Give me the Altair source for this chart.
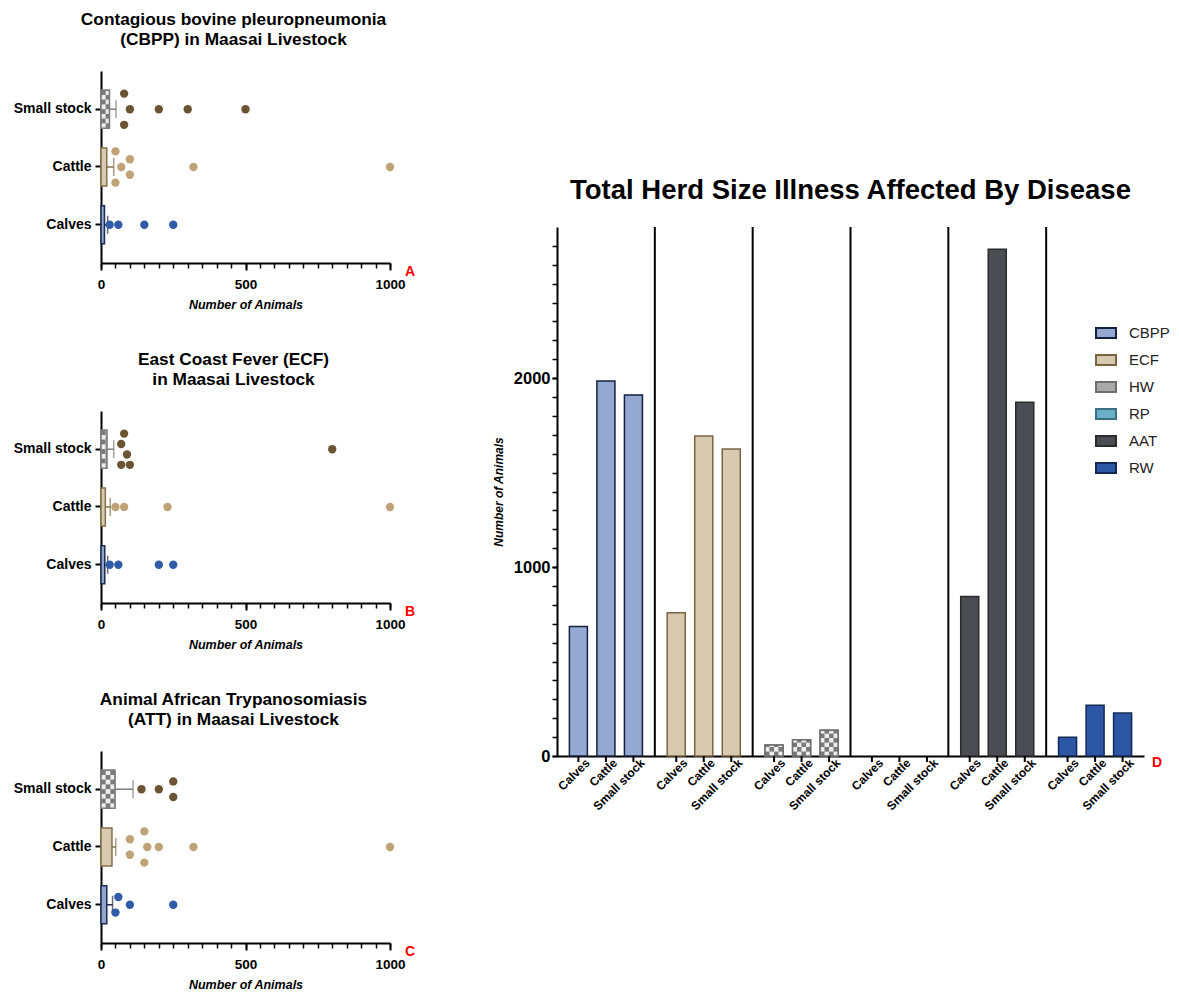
import altair as alt
import pandas as pd

FONT = "Liberation Sans"
CATS = ["Calves", "Cattle", "Small stock"]
Y_ORDER = ["Small stock", "Cattle", "Calves"]

# ---------------- Panel A : CBPP ----------------
a_title = ["Contagious bovine pleuropneumonia", "(CBPP) in  Maasai  Livestock"]
a_bar = [12, 20, 29]          # Calves, Cattle, Small stock
a_err = [23, 44, 52]
a_calves = [30, 60, 150, 250]
a_calves_lane = [0, 0, 0, 0]
a_cattle = [50, 100, 70, 320, 1000, 100, 50]
a_cattle_lane = [-2, -1, 0, 0, 0, 1, 2]
a_small = [80, 100, 200, 300, 500, 80]
a_small_lane = [-2, 0, 0, 0, 0, 2]

# ---------------- Panel B : ECF ----------------
b_title = ["East Coast Fever (ECF)", "in Maasai Livestock"]
b_bar = [13, 15, 20]
b_err = [23, 32, 44]
b_calves = [30, 60, 200, 250]
b_calves_lane = [0, 0, 0, 0]
b_cattle = [50, 80, 230, 1000]
b_cattle_lane = [0, 0, 0, 0]
b_small = [80, 70, 800, 90, 70, 100]
b_small_lane = [-2, -0.67, 0, 0.67, 2, 2]

# ---------------- Panel C : ATT ----------------
c_title = ["Animal African Trypanosomiasis", "(ATT) in Maasai Livestock"]
c_bar = [20, 38, 48]
c_err = [40, 51, 111]
c_calves = [60, 100, 250, 50]
c_calves_lane = [-1, 0, 0, 1]
c_cattle = [150, 100, 160, 200, 320, 1000, 100, 150]
c_cattle_lane = [-2, -1, 0, 0, 0, 0, 1, 2]
c_small = [140, 200, 250, 250]
c_small_lane = [0, 0, -1, 1]

# ---------------- Panel D : totals ----------------
DISEASES = ["CBPP", "ECF", "HW", "RP", "AAT", "RW"]
herd_calves = [686, 758, 58, 0, 844, 99]
herd_cattle = [1985, 1694, 86, 0, 2682, 269]
herd_small = [1911, 1625, 136, 0, 1873, 227]

# ---------------- styles ----------------
BAR_FILL = ["#8FA6D3", "#D8CAB0", "#B0B0B0"]
BAR_STROKE = ["#1F2B4D", "#86704B", "#7E7E7E"]
PT_COLOR = ["#2F5BA7", "#BFA377", "#6B5431"]
D_FILL = ["#93A9D2", "#D8CAB0", "#A9A9A9", "#6AAFC8", "#4A4D52", "#2D57A5"]
D_STROKE = ["#15213F", "#7A6340", "#6E6E6E", "#3C6F82", "#2B2B2B", "#142A55"]
CHECK_DARK, CHECK_LIGHT = "#7A7A7A", "#EDEDED"

PW, PH = 289, 192
P_IN, P_OUT = 0.343, 0.333
STEP = PH / (3 - P_IN + 2 * P_OUT)
BAND = STEP * (1 - P_IN)
HALF_BAND = BAND / 2
LANE_PX = 7.8

X_MINOR = list(range(0, 1001, 50))
Y_MINOR = list(range(0, 2701, 100))

CHECK_ROWS = 8                       # checker rows across a horizontal bar
CHECK_UX = (BAND / CHECK_ROWS) / (PW / 1000.0)   # data units per checker cell (panels A-C)


def points_df(calves, cl, cattle, ctl, small, sl):
    rows = []
    for cat, vals, lanes in (("Calves", calves, cl), ("Cattle", cattle, ctl), ("Small stock", small, sl)):
        for v, l in zip(vals, lanes):
            rows.append({"cat": cat, "val": v, "lane": l})
    return pd.DataFrame(rows)


def panel(title, letter, bars, errs, pdf):
    bdf = pd.DataFrame({"cat": CATS, "val": bars, "err": errs})
    yscale = alt.Scale(domain=Y_ORDER, paddingInner=P_IN, paddingOuter=P_OUT)
    yaxis = alt.Axis(labelFont=FONT, labelFontSize=14, labelFontWeight="bold", labelColor="black",
                     domainColor="black", domainWidth=2, tickColor="black", tickWidth=2, tickSize=6,
                     labelPadding=4, title=None)
    xscale = alt.Scale(domain=[0, 1000], nice=False)
    xaxis = alt.Axis(values=[0, 500, 1000], format="d", orient="bottom", labelFont=FONT, labelFontSize=13.5,
                     labelFontWeight="bold", labelColor="black", domainColor="black", domainWidth=2,
                     tickColor="black", tickWidth=2, tickSize=7, labelPadding=7, labelFlush=False,
                     title="Number of Animals", titleFont=FONT, titleFontSize=12.5,
                     titleFontStyle="italic", titleFontWeight="bold", titleColor="black", titlePadding=8)
    Y = alt.Y("cat:N", sort=Y_ORDER, scale=yscale, axis=yaxis)
    Ys = alt.Y("cat:N", sort=Y_ORDER)

    bar = alt.Chart(bdf).mark_bar(strokeWidth=1.5).encode(
        y=Y, x=alt.X("val:Q", scale=xscale, axis=xaxis),
        fill=alt.Fill("cat:N", scale=alt.Scale(domain=CATS, range=BAR_FILL), legend=None),
        stroke=alt.Stroke("cat:N", scale=alt.Scale(domain=CATS, range=BAR_STROKE), legend=None),
    )
    checks = []
    for r in range(CHECK_ROWS):
        checks.append(
            alt.Chart(bdf).transform_filter("datum.cat == 'Small stock'")
            .transform_calculate(cells=f"sequence(0, ceil(datum.val/{CHECK_UX}))")
            .transform_flatten(["cells"])
            .transform_calculate(lo=f"datum.cells*{CHECK_UX}", hi=f"min((datum.cells+1)*{CHECK_UX}, datum.val)")
            .mark_bar(height=BAND / CHECK_ROWS, yOffset=(r - (CHECK_ROWS - 1) / 2) * BAND / CHECK_ROWS)
            .encode(y=Ys, x=alt.X("lo:Q", axis=None), x2="hi:Q",
                    fill=alt.condition(f"(datum.cells + {r}) % 2 == 0", alt.value(CHECK_DARK), alt.value(CHECK_LIGHT)))
        )
    outline = alt.Chart(bdf).transform_filter("datum.cat == 'Small stock'").mark_bar(
        fillOpacity=0, stroke=BAR_STROKE[2], strokeWidth=1.5).encode(y=Ys, x=alt.X("val:Q", axis=None))
    err = alt.Chart(bdf).mark_rule(strokeWidth=1.5).encode(
        y=Ys, x=alt.X("val:Q", axis=None), x2="err:Q",
        color=alt.Color("cat:N", scale=alt.Scale(domain=CATS, range=BAR_STROKE), legend=None),
    )
    cap = alt.Chart(bdf).mark_tick(size=18, thickness=1.5).encode(
        y=Ys, x=alt.X("err:Q", axis=None),
        color=alt.Color("cat:N", scale=alt.Scale(domain=CATS, range=BAR_STROKE), legend=None),
    )
    pts = alt.Chart(pdf).transform_calculate(
        off=f"datum.lane*{LANE_PX}+{HALF_BAND}").mark_circle(size=70, opacity=1).encode(
        y=Ys, yOffset=alt.YOffset("off:Q", scale=None),
        x=alt.X("val:Q", axis=None),
        color=alt.Color("cat:N", scale=alt.Scale(domain=CATS, range=PT_COLOR), legend=None),
    )
    minor = alt.Chart(pd.DataFrame({"t": X_MINOR})).mark_point(opacity=0).encode(
        x=alt.X("t:Q", axis=alt.Axis(values=X_MINOR, orient="bottom", labels=False, domain=False,
                                     tickSize=5, tickWidth=1.5, tickColor="black", title=None, grid=False)))
    lab = alt.Chart(pd.DataFrame({"l": [letter]})).mark_text(
        color="#FF0000", fontWeight="bold", fontSize=14, font=FONT, align="left", baseline="middle",
        dx=15, dy=9).encode(x=alt.X(datum=1000, axis=None), y=alt.value(PH), text="l:N")

    return alt.layer(bar, *checks, outline, err, cap, pts, minor, lab).resolve_scale(
        color="independent", fill="independent", stroke="independent"
    ).resolve_axis(x="independent").properties(
        width=PW, height=PH,
        title=alt.TitleParams(title, font=FONT, fontSize=17.3, fontWeight="bold", color="black",
                              anchor="middle", frame="group", dx=-12, lineHeight=20, offset=23),
    )


pA = panel(a_title, "A", a_bar, a_err,
           points_df(a_calves, a_calves_lane, a_cattle, a_cattle_lane, a_small, a_small_lane))
pB = panel(b_title, "B", b_bar, b_err,
           points_df(b_calves, b_calves_lane, b_cattle, b_cattle_lane, b_small, b_small_lane))
pC = panel(c_title, "C", c_bar, c_err,
           points_df(c_calves, c_calves_lane, c_cattle, c_cattle_lane, c_small, c_small_lane))

left = alt.vconcat(pA, pB, pC, spacing=39).resolve_scale(
    color="independent", fill="independent", stroke="independent")

# ---------------- right chart ----------------
DW, DH = 587, 529
YMAX = 2800
rows = []
for i, d in enumerate(DISEASES):
    for cat, arr in (("Calves", herd_calves), ("Cattle", herd_cattle), ("Small stock", herd_small)):
        rows.append({"disease": d, "cat": cat, "val": arr[i]})
ddf = pd.DataFrame(rows)

XO_IN, XO_OUT = 0.345, 0.45
GROUP_W = DW / len(DISEASES)
SUB_STEP = GROUP_W / (3 - XO_IN + 2 * XO_OUT)
BAR_W = SUB_STEP * (1 - XO_IN)
CHECK_COLS = 4
CELL_PX = BAR_W / CHECK_COLS
CHECK_UY = CELL_PX / (DH / YMAX)

xsc = alt.Scale(domain=DISEASES, paddingInner=0, paddingOuter=0)
xoff = alt.XOffset("cat:N", sort=CATS, scale=alt.Scale(domain=CATS, paddingInner=XO_IN, paddingOuter=XO_OUT))
Xd = alt.X("disease:N", sort=DISEASES)
leg = dict(title=None, orient="none", legendX=538, legendY=95, symbolType="M-1,-0.5H1V0.5H-1Z",
           symbolSize=400, symbolStrokeWidth=2, labelFont=FONT, labelFontSize=15, labelColor="#222222",
           labelOffset=12, rowPadding=7)

dbars = alt.Chart(ddf).transform_filter("datum.val > 0").mark_bar(strokeWidth=1.5).encode(
    x=alt.X("disease:N", sort=DISEASES, scale=xsc,
            axis=alt.Axis(labels=False, ticks=False, domain=True, domainColor="black", domainWidth=2, title=None)),
    xOffset=xoff,
    y=alt.Y("val:Q", scale=alt.Scale(domain=[0, YMAX], nice=False),
            axis=alt.Axis(values=[0, 1000, 2000], format="d", orient="left", labelFont=FONT, labelFontSize=16.5,
                          labelFontWeight="bold", labelColor="black", domainColor="black", domainWidth=2,
                          tickColor="black", tickWidth=2, tickSize=5, labelPadding=2,
                          title="Number of Animals", titleFont=FONT, titleFontSize=12,
                          titleFontStyle="italic", titleFontWeight="bold", titleColor="black", titlePadding=8)),
    fill=alt.Fill("disease:N", sort=DISEASES, scale=alt.Scale(domain=DISEASES, range=D_FILL), legend=alt.Legend(**leg)),
    stroke=alt.Stroke("disease:N", sort=DISEASES, scale=alt.Scale(domain=DISEASES, range=D_STROKE), legend=alt.Legend(**leg)),
)
# checkered fill of the HW bars: one layer per (category, checker column)
dchecks = []
for ci, cat in enumerate(CATS):
    for k in range(CHECK_COLS):
        dchecks.append(
            alt.Chart(ddf).transform_filter(f"datum.disease == 'HW' && datum.cat == '{cat}' && datum.val > 0")
            .transform_calculate(cells=f"sequence(0, ceil(datum.val/{CHECK_UY}))")
            .transform_flatten(["cells"])
            .transform_calculate(lo=f"datum.cells*{CHECK_UY}", hi=f"min((datum.cells+1)*{CHECK_UY}, datum.val)")
            .mark_bar(width=CELL_PX, xOffset=(ci - 1) * SUB_STEP + (k - (CHECK_COLS - 1) / 2) * CELL_PX)
            .encode(x=Xd, y=alt.Y("lo:Q", axis=None), y2="hi:Q",
                    fill=alt.condition(f"(datum.cells + {k}) % 2 == 0", alt.value(CHECK_DARK), alt.value(CHECK_LIGHT)))
        )
doutline = alt.Chart(ddf).transform_filter("datum.disease == 'HW' && datum.val > 0").mark_bar(
    fillOpacity=0, stroke=D_STROKE[2], strokeWidth=1.5).encode(x=Xd, xOffset=xoff, y=alt.Y("val:Q", axis=None))
sep = alt.Chart(pd.DataFrame({"disease": DISEASES[:-1]})).mark_rule(color="black", strokeWidth=2).encode(
    x=alt.X("disease:N", sort=DISEASES, bandPosition=1), y=alt.value(0), y2=alt.value(DH))
xt = alt.Chart(ddf).mark_rule(color="black", strokeWidth=2).encode(
    x=Xd, xOffset=xoff, y=alt.value(DH), y2=alt.value(DH + 6))
xl = alt.Chart(ddf).mark_text(angle=315, align="right", baseline="middle", font=FONT, fontSize=12,
                              fontWeight="bold", color="black", dx=3, dy=10).encode(
    x=Xd, xOffset=xoff, y=alt.value(DH), text="cat:N")
yminor = alt.Chart(pd.DataFrame({"t": Y_MINOR})).mark_point(opacity=0).encode(
    y=alt.Y("t:Q", axis=alt.Axis(values=Y_MINOR, orient="left", labels=False, domain=False, tickSize=5,
                                 tickWidth=1.5, tickColor="black", title=None, grid=False)))
dlab = alt.Chart(pd.DataFrame({"l": ["D"]})).mark_text(
    color="#FF0000", fontWeight="bold", fontSize=14, font=FONT, align="left", baseline="middle").encode(
    x=alt.value(DW + 8), y=alt.value(DH + 7), text="l:N")

right_main = alt.layer(dbars, *dchecks, doutline, sep, xt, xl, yminor, dlab).resolve_axis(
    y="independent").properties(
    width=DW, height=DH,
    title=alt.TitleParams("Total Herd Size Illness Affected By Disease", font=FONT, fontSize=27.5,
                          fontWeight="bold", color="black", anchor="middle", frame="group", offset=22),
)
SP_H = 105
spacer = alt.Chart(pd.DataFrame({"a": [0]})).mark_rect(color="white").encode(
    x=alt.value(0), x2=alt.value(1), y=alt.value(0), y2=alt.value(SP_H)).properties(width=DW, height=SP_H)
right = alt.vconcat(spacer, right_main, spacing=0).resolve_scale(
    color="independent", fill="independent", stroke="independent")

chart = alt.hconcat(left, right, spacing=76).resolve_scale(
    color="independent", fill="independent", stroke="independent"
).properties(
    padding={"left": 5, "top": 2, "right": 0, "bottom": 0}
).configure_view(stroke=None).configure_axis(grid=False)

chart.save("out.html", embed_options={"renderer": "svg", "actions": False})
